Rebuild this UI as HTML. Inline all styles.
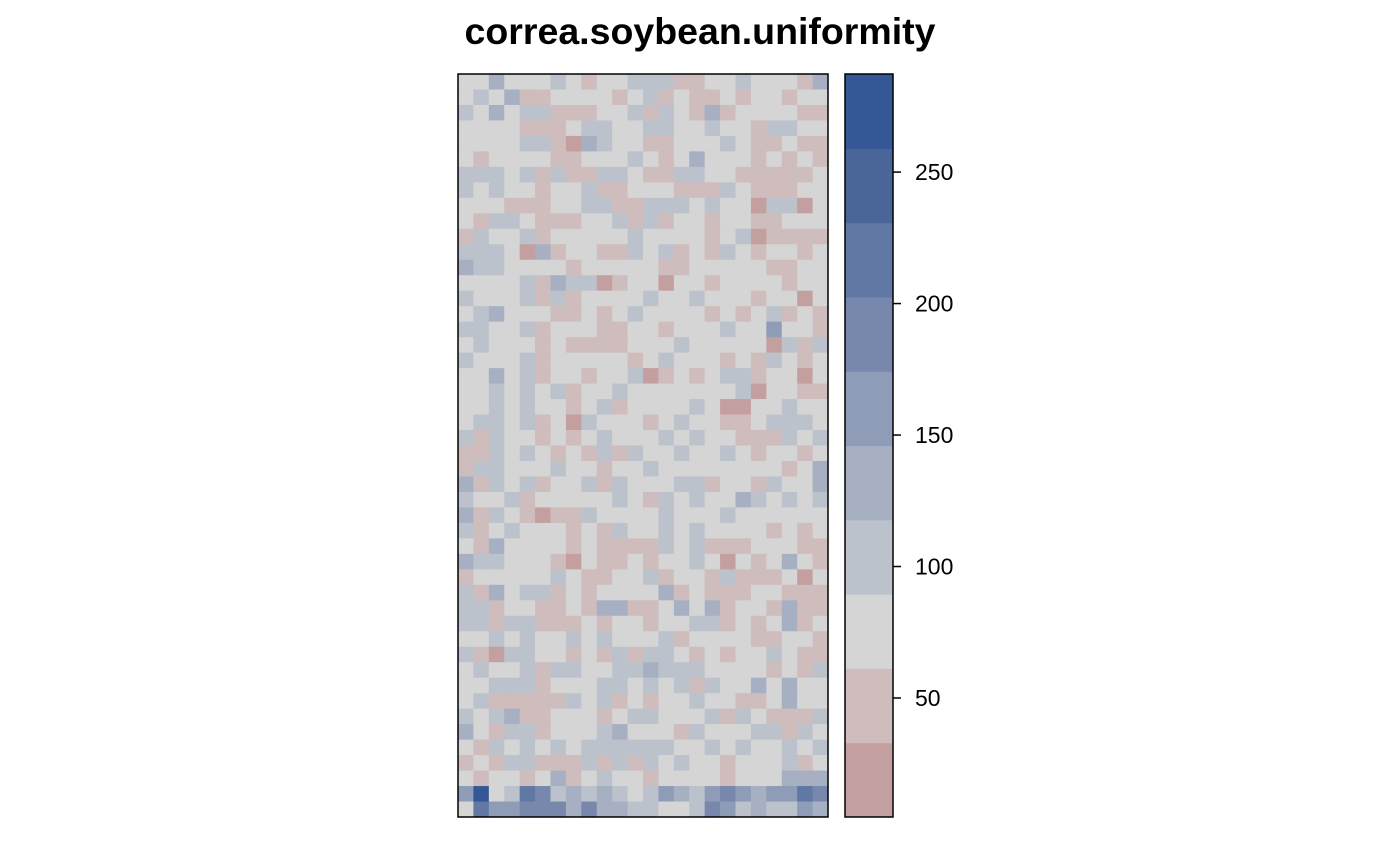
<!DOCTYPE html>
<html><head><meta charset="utf-8"><style>
html,body{margin:0;padding:0;background:#fff;}
svg{display:block;font-family:"Liberation Sans",Arial,sans-serif;}
</style></head><body>
<svg id="chart" width="1400" height="866" viewBox="0 0 1400 866">
<text x="700" y="44" text-anchor="middle" font-size="37.5" font-weight="bold">correa.soybean.uniformity</text>
<g id="cells"></g>
<rect x="458" y="74" width="370" height="743" fill="none" stroke="#000" stroke-width="1.5"/>
<g id="legend"></g>
</svg>
<script>
const r=20,p=47,g=75,b=103,B=131;
const grid=[
[g,g,B,g,g,g,b,g,p,g,g,b,b,b,p,p,g,g,b,g,g,g,p,B],
[g,b,g,B,p,p,g,g,g,g,p,g,b,p,g,p,p,g,p,g,g,p,g,g],
[b,g,B,g,b,b,p,p,p,g,g,b,p,b,g,p,B,p,g,g,g,g,p,p],
[g,g,g,g,p,p,p,g,b,b,g,g,b,b,g,g,b,g,g,p,b,b,g,g],
[g,g,g,g,b,b,p,r,B,b,g,g,p,p,g,g,g,b,g,p,p,g,p,p],
[g,p,g,g,g,g,p,p,g,g,g,b,g,p,g,B,g,g,g,p,g,p,g,p],
[b,b,b,g,b,p,b,p,p,b,b,g,p,p,b,b,g,g,p,p,p,p,p,g],
[b,g,b,g,g,p,g,g,b,p,p,g,g,g,p,p,p,b,g,p,p,p,g,g],
[g,g,g,p,p,p,g,g,b,b,p,p,b,b,b,g,b,g,g,r,b,b,r,g],
[g,p,b,b,g,p,p,p,g,g,b,p,b,p,g,g,p,g,g,p,p,g,g,g],
[p,b,g,g,b,p,g,g,g,g,g,b,g,g,g,g,p,g,b,r,p,p,p,p],
[b,b,b,g,r,B,p,g,g,p,p,b,g,b,p,g,p,b,g,p,g,g,p,g],
[B,b,b,g,g,g,g,p,g,g,g,g,g,p,p,g,g,g,g,g,p,p,g,g],
[g,g,g,g,b,p,B,b,b,r,p,g,g,r,g,g,p,g,g,g,g,p,g,g],
[b,g,g,g,b,p,b,p,g,g,g,g,b,g,g,b,g,g,g,p,g,g,r,g],
[g,b,B,g,g,g,p,p,g,p,g,b,g,g,g,g,p,g,p,g,b,p,g,p],
[b,b,g,g,b,p,g,g,g,p,p,g,g,p,g,g,g,b,g,g,160,g,g,p],
[g,b,g,g,g,p,g,p,p,p,p,g,g,g,b,g,g,g,g,g,r,b,p,b],
[b,g,g,g,b,p,g,g,g,g,g,p,g,b,g,g,g,p,g,p,b,g,p,g],
[g,g,B,g,b,p,g,g,p,g,g,b,r,p,g,p,g,b,b,p,g,g,r,g],
[g,g,b,g,b,g,b,p,g,g,b,g,g,g,g,g,g,g,b,r,g,g,p,p],
[g,g,b,g,b,g,g,p,g,b,p,g,g,g,g,b,g,r,r,g,g,b,g,g],
[g,b,b,g,b,p,g,r,b,g,g,g,p,g,b,g,g,p,p,g,b,b,b,g],
[b,p,b,g,g,p,g,p,g,b,g,g,g,b,g,b,g,g,p,p,p,b,g,b],
[p,p,b,g,b,g,p,g,p,b,p,b,g,g,b,g,g,b,g,p,g,g,p,g],
[p,b,b,g,g,g,b,g,g,p,g,g,b,g,g,g,g,g,g,g,g,p,g,B],
[B,p,b,g,b,p,g,g,b,p,b,g,g,g,b,b,p,g,g,p,b,g,g,B],
[b,g,g,b,p,g,g,g,g,g,b,g,p,b,g,b,g,g,B,b,g,b,g,b],
[B,p,b,g,p,r,p,p,b,g,g,g,g,b,g,g,g,b,g,g,g,g,g,g],
[b,p,g,b,g,g,g,p,g,p,b,g,g,b,g,b,g,g,g,g,p,g,p,g],
[g,p,B,g,g,g,g,p,g,p,p,p,p,b,g,b,p,p,p,g,g,g,p,p],
[B,b,b,g,g,g,p,r,g,p,p,g,p,g,g,b,g,r,g,p,g,B,g,p],
[p,g,g,g,g,g,b,g,p,p,g,g,b,p,g,g,p,b,p,p,p,g,r,g],
[b,p,B,g,b,b,p,g,p,g,g,g,g,B,p,g,p,p,p,g,g,p,p,p],
[b,b,p,g,g,p,p,g,p,B,B,p,p,g,B,g,B,p,g,g,p,B,p,p],
[b,b,p,b,b,p,p,p,g,p,g,g,p,g,g,b,b,p,g,p,g,B,p,g],
[g,g,b,g,b,g,g,b,g,b,g,g,g,b,p,g,g,g,g,p,p,g,g,p],
[b,p,r,b,b,g,g,p,g,p,b,p,b,b,g,p,g,p,g,g,b,g,p,p],
[g,b,g,g,b,p,b,b,g,g,b,b,B,b,b,b,g,g,g,g,p,g,p,b],
[g,g,b,b,b,p,g,g,g,b,b,g,b,g,b,p,b,g,g,B,g,B,g,g],
[g,b,p,p,p,p,p,b,g,b,p,g,p,g,g,b,g,g,p,p,g,B,g,g],
[b,g,b,B,p,p,g,g,g,p,g,b,b,g,g,g,b,p,b,g,p,p,p,b],
[B,g,p,b,b,p,g,g,g,b,B,g,g,g,p,b,g,g,g,b,b,p,b,g],
[g,p,b,g,b,g,b,g,b,b,b,b,b,b,g,g,b,g,b,g,g,b,g,b],
[p,g,p,b,b,p,p,p,b,p,b,p,b,g,b,g,g,p,g,g,g,b,p,g],
[g,p,g,g,p,g,B,p,g,b,g,g,p,g,g,g,g,p,g,g,g,B,B,B],
[160,270,g,b,215,188,b,B,b,B,b,g,b,160,B,b,160,188,160,B,160,160,215,188],
[g,215,160,160,188,188,188,B,188,B,B,b,b,g,g,b,188,160,b,B,b,b,160,B]
];
const legendBreaks=[4.75,33,61.25,89.5,117.75,146,174.25,202.5,230.75,259,287.3];
const binColors=["#c49f9f","#cfbcbc","#d5d5d5","#bcc2cc","#a6b0c2","#8e9cb8","#7888ac","#6278a4","#4a6699","#345896"];
const tickLabels=[50,100,150,200,250];

const NS="http://www.w3.org/2000/svg";
const PX0=458,PX1=828,PY0=74,PY1=817;
const nRows=grid.length,nCols=grid[0].length;
const cw=(PX1-PX0)/nCols,ch=(PY1-PY0)/nRows;
const vmin=legendBreaks[0],vmax=legendBreaks[legendBreaks.length-1];
function colorOf(v){for(let i=0;i<binColors.length;i++){if(v<legendBreaks[i+1])return binColors[i];}return binColors[binColors.length-1];}
function ly(v){return PY1-(v-vmin)/(vmax-vmin)*(PY1-PY0);}
const cells=document.getElementById('cells');
grid.forEach((row,ri)=>row.forEach((v,ci)=>{
  const el=document.createElementNS(NS,'rect');
  
  
  el.setAttribute('x',PX0+ci*cw);el.setAttribute('y',PY0+ri*ch);
  el.setAttribute('width',cw+0.5);el.setAttribute('height',ch+0.5);
  el.setAttribute('fill',colorOf(v));
  cells.appendChild(el);
}));
const leg=document.getElementById('legend');
const LX=845,LW=48;
for(let i=0;i<binColors.length;i++){
  const el=document.createElementNS(NS,'rect');
  
  
  const y1=ly(legendBreaks[i+1]),y0=ly(legendBreaks[i]);
  el.setAttribute('x',LX);el.setAttribute('y',y1);el.setAttribute('width',LW);el.setAttribute('height',y0-y1+0.5);
  el.setAttribute('fill',binColors[i]);
  leg.appendChild(el);
}
const border=document.createElementNS(NS,'rect');


border.setAttribute('x',LX);border.setAttribute('y',PY0);border.setAttribute('width',LW);border.setAttribute('height',PY1-PY0);
border.setAttribute('fill','none');border.setAttribute('stroke','#000');border.setAttribute('stroke-width','1.5');
leg.appendChild(border);
tickLabels.forEach(t=>{
  const y=ly(t);
  const tk=document.createElementNS(NS,'line');
  
  
  tk.setAttribute('x1',LX+LW);tk.setAttribute('x2',LX+LW+8);tk.setAttribute('y1',y);tk.setAttribute('y2',y);
  tk.setAttribute('stroke','#000');tk.setAttribute('stroke-width','1.5');
  leg.appendChild(tk);
  const tx=document.createElementNS(NS,'text');
  
  
  tx.setAttribute('x',LX+LW+22);tx.setAttribute('y',y+8);tx.setAttribute('font-size','23');
  tx.textContent=t;
  leg.appendChild(tx);
});
</script>
</body></html>
